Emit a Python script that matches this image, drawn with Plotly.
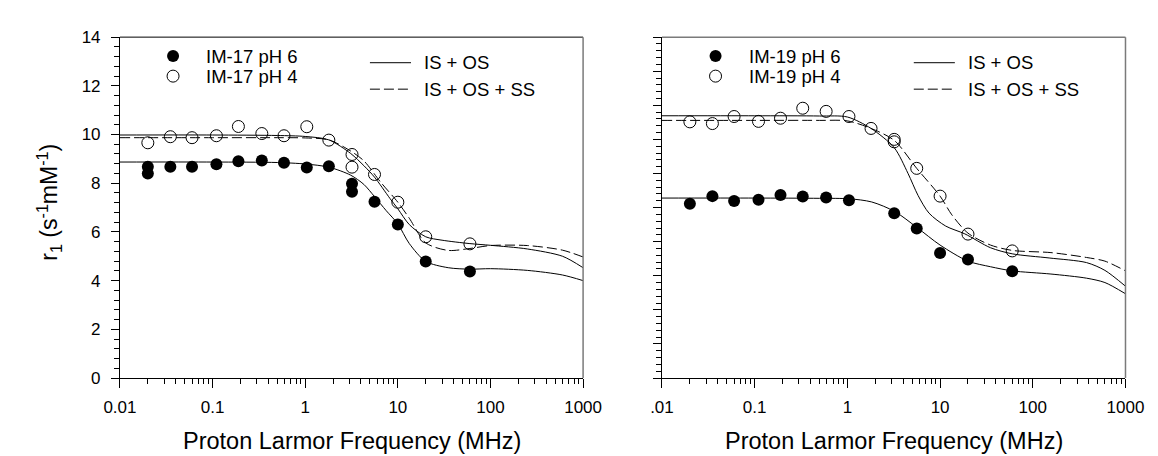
import plotly.graph_objects as go

# ---------------- data ----------------
# Left panel: IM-17
im17_ph6_f = [0.02, 0.02, 0.035, 0.06, 0.11, 0.19, 0.34, 0.59, 1.04, 1.8, 3.2, 3.2, 5.6, 10, 20, 60]
im17_ph6_r1 = [8.68, 8.40, 8.68, 8.68, 8.78, 8.90, 8.93, 8.84, 8.65, 8.70, 7.98, 7.65, 7.24, 6.30, 4.78, 4.37]
im17_ph4_f = [0.02, 0.035, 0.06, 0.11, 0.19, 0.34, 0.59, 1.04, 1.8, 3.2, 3.2, 5.6, 10, 20, 60]
im17_ph4_r1 = [9.66, 9.91, 9.87, 9.95, 10.33, 10.04, 9.95, 10.32, 9.77, 9.18, 8.66, 8.36, 7.22, 5.80, 5.51]

fit17_ph6_os_f = [0.01, 0.1, 0.5, 1, 1.8, 3.1, 4.3, 5.6, 7.5, 10, 13.3, 20, 35, 60, 100, 250, 600, 1000]
fit17_ph6_os_r1 = [8.87, 8.87, 8.85, 8.79, 8.66, 8.33, 7.95, 7.45, 6.87, 6.33, 5.52, 4.79, 4.53, 4.47, 4.49, 4.42, 4.23, 4.00]
fit17_ph4_os_f = [0.01, 0.1, 0.5, 1, 1.8, 3.1, 4.3, 5.6, 8.2, 10, 13.3, 20, 30, 60, 100, 250, 600, 1000]
fit17_ph4_os_r1 = [9.98, 9.98, 9.96, 9.92, 9.78, 9.22, 8.72, 8.25, 7.38, 6.95, 6.30, 5.80, 5.66, 5.52, 5.45, 5.30, 5.00, 4.53]
fit17_ph4_ss_f = [0.01, 0.1, 0.5, 1, 1.8, 3.1, 4.3, 6.5, 10, 13.3, 20, 35, 60, 100, 250, 600, 1000]
fit17_ph4_ss_r1 = [9.87, 9.87, 9.87, 9.86, 9.78, 9.32, 8.92, 8.05, 7.22, 6.56, 5.55, 5.24, 5.32, 5.44, 5.44, 5.25, 4.97]

# Right panel: IM-19
im19_ph6_f = [0.02, 0.035, 0.06, 0.11, 0.19, 0.33, 0.59, 1.04, 3.2, 5.6, 10, 20, 60]
im19_ph6_r1 = [7.16, 7.47, 7.27, 7.32, 7.52, 7.45, 7.41, 7.30, 6.77, 6.14, 5.13, 4.87, 4.38]
im19_ph4_f = [0.02, 0.035, 0.06, 0.11, 0.19, 0.33, 0.59, 1.04, 1.8, 3.2, 3.2, 5.6, 10, 20, 60]
im19_ph4_r1 = [10.52, 10.45, 10.74, 10.54, 10.67, 11.08, 10.95, 10.74, 10.25, 9.80, 9.70, 8.61, 7.47, 5.91, 5.22]

fit19_ph6_os_f = [0.01, 0.1, 0.5, 1.05, 1.83, 3.24, 5.64, 10, 20, 35, 60, 157, 380, 600, 1000]
fit19_ph6_os_r1 = [7.39, 7.39, 7.38, 7.36, 7.23, 6.84, 6.18, 5.46, 4.80, 4.57, 4.40, 4.27, 4.10, 3.92, 3.46]
fit19_ph4_os_f = [0.01, 0.1, 0.5, 1, 1.8, 3.2, 4.5, 5.8, 7.6, 11.5, 18.5, 35, 60, 150, 380, 600, 1000]
fit19_ph4_os_r1 = [10.77, 10.77, 10.76, 10.72, 10.25, 9.46, 8.41, 7.49, 6.77, 6.24, 5.92, 5.35, 5.10, 4.93, 4.74, 4.42, 3.77]
fit19_ph4_ss_f = [0.01, 0.1, 0.5, 1, 1.8, 3.2, 5.6, 10, 13.4, 20, 35, 60, 157, 380, 600, 1000]
fit19_ph4_ss_r1 = [10.58, 10.58, 10.58, 10.56, 10.25, 9.76, 8.61, 7.47, 6.70, 5.95, 5.46, 5.24, 5.15, 4.95, 4.80, 4.40]

x_tickvals = [0.01, 0.1, 1, 10, 100, 1000]
x_ticktext_left = ["0.01", "0.1", "1", "10", "100", "1000"]
x_ticktext_right = [".01", "0.1", "1", "10", "100", "1000"]

legend_left = ["IM-17 pH 6", "IM-17 pH 4"]
legend_right = ["IM-19 pH 6", "IM-19 pH 4"]
legend_lines = ["IS + OS", "IS + OS + SS"]
x_title = "Proton Larmor Frequency (MHz)"
y_title = "r<sub>1</sub> (s<sup>-1</sup>mM<sup>-1</sup>)"

# ---------------- figure ----------------
W, H = 1158, 456
FONT = "Liberation Sans, Arial, sans-serif"
FRAME_GRAY = "#7a7a7a"

def px(x):
    return x / W

def py(y):
    return 1 - y / H

fig = go.Figure()

line_solid = dict(color="black", width=1, shape="spline", smoothing=0.8)
line_dash = dict(color="black", width=1, shape="spline", smoothing=0.8, dash="10px,4px")

panels = [
    ("x", "y", fit17_ph6_os_f, fit17_ph6_os_r1, fit17_ph4_os_f, fit17_ph4_os_r1,
     fit17_ph4_ss_f, fit17_ph4_ss_r1, im17_ph6_f, im17_ph6_r1, im17_ph4_f, im17_ph4_r1),
    ("x2", "y2", fit19_ph6_os_f, fit19_ph6_os_r1, fit19_ph4_os_f, fit19_ph4_os_r1,
     fit19_ph4_ss_f, fit19_ph4_ss_r1, im19_ph6_f, im19_ph6_r1, im19_ph4_f, im19_ph4_r1),
]
for (xa, ya, f1, r1, f2, r2, f3, r3, pf6, pr6, pf4, pr4) in panels:
    fig.add_trace(go.Scatter(x=f1, y=r1, mode="lines", line=line_solid, xaxis=xa, yaxis=ya, showlegend=False))
    fig.add_trace(go.Scatter(x=f2, y=r2, mode="lines", line=line_solid, xaxis=xa, yaxis=ya, showlegend=False))
    fig.add_trace(go.Scatter(x=f3, y=r3, mode="lines", line=line_dash, xaxis=xa, yaxis=ya, showlegend=False))
    fig.add_trace(go.Scatter(x=pf6, y=pr6, mode="markers", xaxis=xa, yaxis=ya, showlegend=False,
                             marker=dict(symbol="circle", size=12, color="black", line=dict(width=0))))
    fig.add_trace(go.Scatter(x=pf4, y=pr4, mode="markers", xaxis=xa, yaxis=ya, showlegend=False,
                             marker=dict(symbol="circle-open", size=12, color="black", line=dict(width=1))))

minor_x = [m * 10 ** k for k in range(-2, 3) for m in range(2, 10)]

y_top, y_bot = 21.0, 376.7
L0, L1 = 98.0, 576.0
R0, R1 = 657.4, 1135.8
left_dom = [px(L0), px(L1)]
right_dom = [px(R0), px(R1)]
ydom = [py(y_bot), py(y_top)]

common_x = dict(type="log", range=[-2, 3], showgrid=False, zeroline=False,
                showline=True, linecolor="black", linewidth=1, mirror=False,
                ticks="outside", ticklen=9, tickwidth=1, tickcolor="black",
                tickvals=x_tickvals, ticklabelstandoff=5,
                tickfont=dict(family=FONT, size=17, color="black"),
                minor=dict(tickvals=minor_x, ticks="outside", ticklen=5, tickwidth=1,
                           tickcolor="black", showgrid=False))
common_y = dict(range=[0, 14], showgrid=False, zeroline=False,
                showline=True, linecolor="black", linewidth=1, mirror=False,
                ticks="outside", ticklen=8, tickwidth=1, tickcolor="black",
                tickfont=dict(family=FONT, size=17, color="black"))

fig.update_layout(
    width=W, height=H,
    margin=dict(l=0, r=0, t=0, b=0),
    paper_bgcolor="white", plot_bgcolor="white",
    font=dict(family=FONT, color="black"),
    showlegend=False,
    xaxis=dict(domain=left_dom, anchor="y", ticktext=x_ticktext_left, **common_x),
    yaxis=dict(domain=ydom, anchor="x", tick0=0, dtick=2, ticklabelstandoff=7,
               minor=dict(dtick=0.4, ticks="outside", ticklen=4.5, tickwidth=1,
                          tickcolor="black", showgrid=False), **common_y),
    xaxis2=dict(domain=right_dom, anchor="y2", ticktext=x_ticktext_right, **common_x),
    yaxis2=dict(domain=ydom, anchor="x2", tick0=0, dtick=1.4, showticklabels=False,
                minor=dict(dtick=0.28, ticks="outside", ticklen=4.5, tickwidth=1,
                           tickcolor="black", showgrid=False), **common_y),
)

shapes = []
annotations = []

# frame lines (top / right) of both panels
shapes.append(dict(type="line", xref="paper", yref="paper", x0=px(L0), x1=px(L1), y0=py(y_top), y1=py(y_top),
                   line=dict(color="black", width=1)))
shapes.append(dict(type="line", xref="paper", yref="paper", x0=px(L1), x1=px(L1), y0=py(y_top), y1=py(y_bot),
                   line=dict(color=FRAME_GRAY, width=1.5)))
shapes.append(dict(type="line", xref="paper", yref="paper", x0=px(R0), x1=px(R1), y0=py(y_top), y1=py(y_top),
                   line=dict(color=FRAME_GRAY, width=1.5)))
shapes.append(dict(type="line", xref="paper", yref="paper", x0=px(R1), x1=px(R1), y0=py(y_top), y1=py(y_bot),
                   line=dict(color=FRAME_GRAY, width=1.5)))

# legends (swatches + text) for both panels
for (mx, lx0, lx1, labels) in [(152.8, 356, 398.4, legend_left), (712.7, 917.3, 959.7, legend_right)]:
    shapes.append(dict(type="circle", xref="paper", yref="paper", xsizemode="pixel", ysizemode="pixel",
                       xanchor=px(mx), yanchor=py(40.7), x0=-6, x1=6, y0=-6, y1=6,
                       fillcolor="black", line=dict(color="black", width=0)))
    shapes.append(dict(type="circle", xref="paper", yref="paper", xsizemode="pixel", ysizemode="pixel",
                       xanchor=px(mx), yanchor=py(61.7), x0=-6, x1=6, y0=-6, y1=6,
                       fillcolor="rgba(0,0,0,0)", line=dict(color="black", width=1)))
    shapes.append(dict(type="line", xref="paper", yref="paper", x0=px(lx0), x1=px(lx1),
                       y0=py(47.7), y1=py(47.7), line=dict(color="black", width=1)))
    shapes.append(dict(type="line", xref="paper", yref="paper", x0=px(lx0), x1=px(lx1),
                       y0=py(75.3), y1=py(75.3), line=dict(color="black", width=1, dash="10px,4px")))
    tx = mx + 32
    for lab, yy in zip(labels, [40.7, 61.7]):
        annotations.append(dict(text=lab, xref="paper", yref="paper", x=px(tx), y=py(yy),
                                xanchor="left", yanchor="middle", showarrow=False,
                                font=dict(family=FONT, size=18.5, color="black")))
    for lab, yy in zip(legend_lines, [47.7, 75.3]):
        annotations.append(dict(text=lab, xref="paper", yref="paper", x=px(lx1 + 11), y=py(yy),
                                xanchor="left", yanchor="middle", showarrow=False,
                                font=dict(family=FONT, size=18.5, color="black")))

# axis titles
for cx in [(L0 + L1) / 2, (R0 + R1) / 2]:
    annotations.append(dict(text=x_title, xref="paper", yref="paper", x=px(cx), y=py(442.5),
                            xanchor="center", yanchor="middle", showarrow=False,
                            font=dict(family=FONT, size=23.5, color="black")))
annotations.append(dict(text=y_title, xref="paper", yref="paper", x=px(25), y=py(193.5),
                        xanchor="center", yanchor="middle", textangle=-90, showarrow=False,
                        font=dict(family=FONT, size=23, color="black")))

fig.update_layout(shapes=shapes, annotations=annotations)
fig.write_html("out.html")
